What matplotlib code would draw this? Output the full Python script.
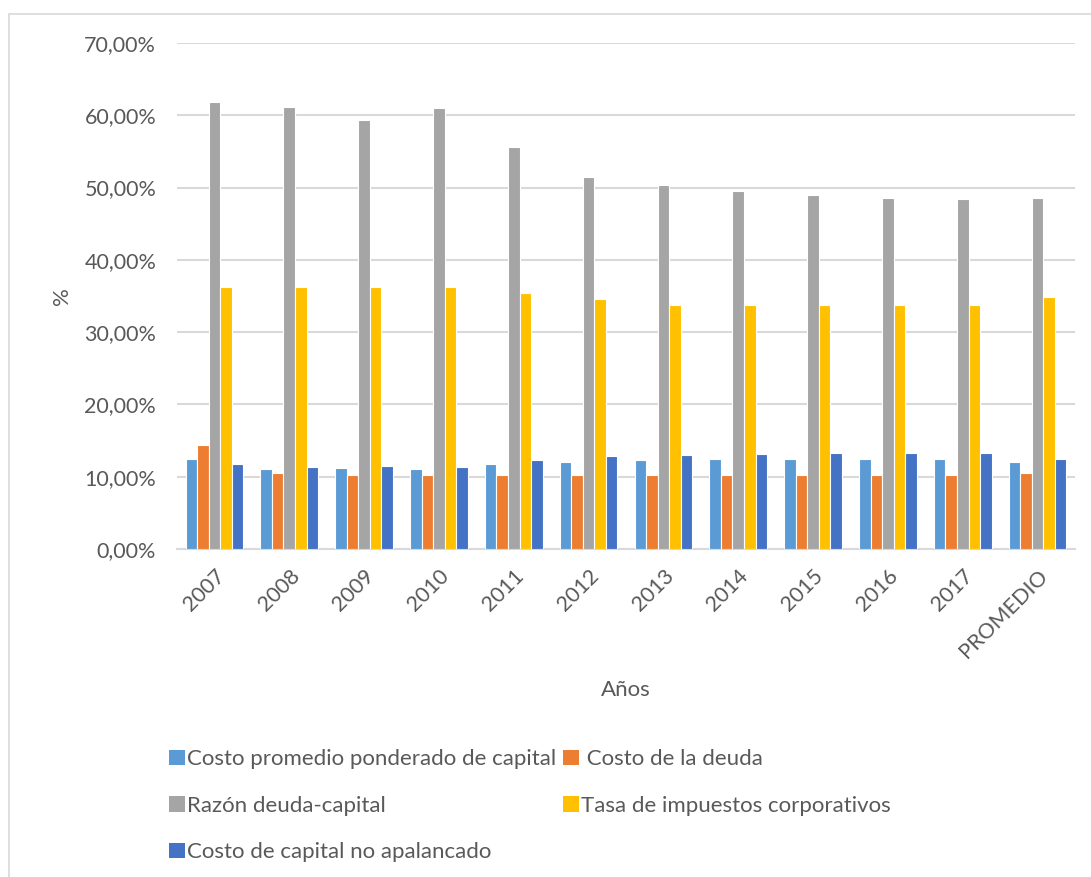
import matplotlib
matplotlib.use("Agg")
import matplotlib.pyplot as plt
import numpy as np
from matplotlib.patches import Rectangle, Patch
from matplotlib.ticker import FuncFormatter, MultipleLocator

plt.rcParams["font.family"] = ["Lato", "DejaVu Sans"]

# Años y series (en %)
years = ["2007", "2008", "2009", "2010", "2011", "2012", "2013", "2014",
         "2015", "2016", "2017", "PROMEDIO"]
wacc = [12.5, 11.1, 11.2, 11.0, 11.7, 12.1, 12.3, 12.4, 12.4, 12.5, 12.5, 12.0]
kd = [14.4, 10.55, 10.2, 10.2, 10.2, 10.2, 10.2, 10.2, 10.2, 10.2, 10.2, 10.55]
de_ratio = [61.8, 61.1, 59.3, 61.0, 55.6, 51.45, 50.3, 49.5, 49.0, 48.55, 48.45, 48.6]
tax = [36.2, 36.2, 36.2, 36.2, 35.4, 34.6, 33.7, 33.7, 33.7, 33.7, 33.7, 34.85]
ku = [11.7, 11.3, 11.5, 11.35, 12.25, 12.85, 13.05, 13.15, 13.25, 13.3, 13.3, 12.4]

series = [
    ("Costo promedio ponderado de capital", wacc, "#5B9BD5"),
    (" Costo de la deuda", kd, "#ED7D31"),
    ("Razón deuda-capital", de_ratio, "#A5A5A5"),
    ("Tasa de impuestos corporativos", tax, "#FFC000"),
    ("Costo de capital no apalancado", ku, "#4472C4"),
]

TXT = "#595959"
GRID = "#D9D9D9"

fig = plt.figure(figsize=(10.91, 8.77), dpi=100)
ax = fig.add_axes([177 / 1091, 1 - 549 / 877, 898 / 1091, 506 / 877])

x = np.arange(len(years))
w = 0.154
for i, (name, vals, col) in enumerate(series):
    ax.bar(x + (i - 2) * w, np.array(vals) / 100, w, color=col,
           edgecolor="white", linewidth=0.8, zorder=3, label=name)

ax.set_xlim(-0.5, len(years) - 0.5)
ax.set_ylim(0, 0.7)
ax.yaxis.set_major_locator(MultipleLocator(0.1))
ax.yaxis.set_major_formatter(FuncFormatter(
    lambda v, _: f"{v * 100:.2f}%".replace(".", ",")))
ax.grid(axis="y", color=GRID, linewidth=1.5, zorder=0)
for s in ("top", "left", "right"):
    ax.spines[s].set_visible(False)
ax.spines["bottom"].set_color(GRID)
ax.spines["bottom"].set_linewidth(1.5)

ax.set_xticks(x)
ax.set_xticklabels(years, rotation=45, ha="right", rotation_mode="anchor")
ax.tick_params(axis="x", length=0, pad=12, labelsize=15.5, labelcolor=TXT)
ax.tick_params(axis="y", length=0, pad=15, labelsize=15.5, labelcolor=TXT)

ax.set_xlabel("Años", fontsize=16, color=TXT, va="center")
ax.xaxis.set_label_coords(0.5, -0.279)
ax.set_ylabel("%", fontsize=16, color=TXT, va="center")
ax.yaxis.set_label_coords(-0.128, 0.5)

# leyenda en dos columnas, ordenada por filas
h = [Patch(facecolor=c, edgecolor="none") for _, _, c in series]
labels = [n for n, _, _ in series]
order = [0, 2, 4, 1, 3]
fig.legend([h[k] for k in order], [labels[k] for k in order], ncol=2,
           loc="upper left", bbox_to_anchor=(158 / 1091, 1 - 738 / 877),
           frameon=False, fontsize=16, labelcolor=TXT,
           handlelength=0.7, handleheight=0.7, handletextpad=0.12,
           labelspacing=1.2, columnspacing=0.3, borderpad=0)

# marco del gráfico
fig.add_artist(Rectangle((9 / 1091, -0.05), 1.2, 1.05 - 14 / 877,
                         transform=fig.transFigure, fill=False,
                         edgecolor=GRID, linewidth=1.2))

fig.savefig("out.png", dpi=100, facecolor="white")
